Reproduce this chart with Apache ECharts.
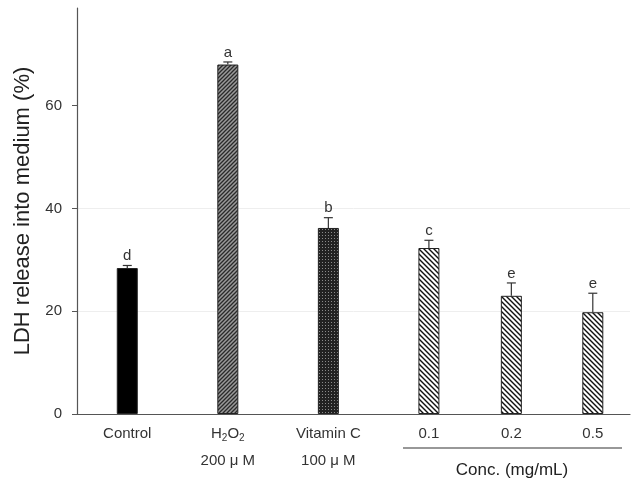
<!DOCTYPE html>
<html>
<head>
<meta charset="utf-8">
<script src="https://cdn.jsdelivr.net/npm/echarts@6/dist/echarts.min.js"></script>
<style>
  html, body { margin: 0; padding: 0; background: #fff; }
  #main { width: 640px; height: 483px; }
</style>
</head>
<body>
<div id="main"></div>
<script>
// данные
const groups = ['Control', 'H2O2', 'Vitamin C', '0.1', '0.2', '0.5'];
const xPos = [1, 2, 3, 4, 4.82, 5.63];
const values = [28.4, 68.0, 36.2, 32.3, 23.0, 19.8];
const errors = [0.5, 0.5, 2.0, 1.5, 2.5, 3.7];
const letters = ['d', 'a', 'b', 'c', 'e', 'e'];
const fills = ['solid', 'fwd', 'dots', 'back', 'back', 'back'];
const yTicks = [0, 20, 40, 60];

const FONT = 'Liberation Sans, Arial, sans-serif';

// узоры заливки столбцов
function hatch(dir, fg, bg, s, lw) {
  const c = document.createElement('canvas');
  c.width = s; c.height = s;
  const g = c.getContext('2d');
  g.fillStyle = bg; g.fillRect(0, 0, s, s);
  g.strokeStyle = fg; g.lineWidth = lw;
  g.beginPath();
  if (dir === 'fwd') {
    g.moveTo(-1, s + 1); g.lineTo(s + 1, -1);
    g.moveTo(-1, 1); g.lineTo(1, -1);
    g.moveTo(s - 1, s + 1); g.lineTo(s + 1, s - 1);
  } else {
    g.moveTo(-1, -1); g.lineTo(s + 1, s + 1);
    g.moveTo(s - 1, -1); g.lineTo(s + 1, 1);
    g.moveTo(-1, s - 1); g.lineTo(1, s + 1);
  }
  g.stroke();
  return c;
}
function dots() {
  const c = document.createElement('canvas');
  c.width = 3; c.height = 3;
  const g = c.getContext('2d');
  g.fillStyle = '#222'; g.fillRect(0, 0, 3, 3);
  g.fillStyle = '#8a8a8a'; g.fillRect(1, 1, 1, 1);
  return c;
}
const patterns = {
  solid: '#000',
  fwd: { image: hatch('fwd', '#2a2a2a', '#9a9a9a', 4, 1.3), repeat: 'repeat' },
  dots: { image: dots(), repeat: 'repeat' },
  back: { image: hatch('back', '#111', '#fff', 5, 1.4), repeat: 'repeat' }
};

const barData = values.map((v, i) => ({
  value: [xPos[i], v],
  itemStyle: { color: patterns[fills[i]] }
}));
const errData = values.map((v, i) => [xPos[i], v, v + errors[i], i]);

const labelText = {
  'Control': '{n|Control}',
  'H2O2': '{n|H}{sub|2}{n|O}{sub|2}\n{n|200 μ M}',
  'Vitamin C': '{n|Vitamin C}\n{n|100 μ M}',
  '0.1': '{n|0.1}', '0.2': '{n|0.2}', '0.5': '{n|0.5}'
};

let chart = echarts.init(document.getElementById('main'));
chart.setOption({
  animation: false,
  textStyle: { fontFamily: FONT },
  grid: { left: 77, right: 10, top: 8, bottom: 69 },
  xAxis: {
    type: 'value',
    min: 0.5,
    max: 6,
    splitLine: { show: false },
    axisTick: { show: false },
    axisLine: { lineStyle: { color: '#555', width: 1.2 } },
    axisLabel: {
      customValues: xPos,
      margin: 6,
      color: '#333',
      formatter: function (val) {
        const i = xPos.indexOf(val);
        return i < 0 ? '' : labelText[groups[i]];
      },
      rich: {
        n: { fontSize: 15, lineHeight: 27, color: '#333', fontFamily: FONT },
        sub: { fontSize: 10, lineHeight: 10, padding: [9, 0, 0, 0], verticalAlign: 'middle', color: '#333', fontFamily: FONT }
      }
    }
  },
  yAxis: {
    type: 'value',
    min: 0,
    max: 79,
    interval: 20,
    name: 'LDH release into medium (%)',
    nameLocation: 'middle',
    nameGap: 40,
    nameTextStyle: { fontSize: 22, color: '#222' },
    axisLine: { show: true, lineStyle: { color: '#555', width: 1.2 } },
    axisTick: { show: true, length: 5, customValues: yTicks, lineStyle: { color: '#555' } },
    axisLabel: { customValues: yTicks, margin: 15, fontSize: 15, color: '#333' },
    splitLine: { show: true, showMaxLine: false, showMinLine: false, lineStyle: { color: '#eeeeee' } }
  },
  graphic: [
    { type: 'line', shape: { x1: 403, y1: 448, x2: 622, y2: 448 }, style: { stroke: '#333', lineWidth: 1.2 } },
    { type: 'text', x: 512, y: 470, style: { text: 'Conc. (mg/mL)', fontSize: 17, fill: '#222', align: 'center', verticalAlign: 'middle', fontFamily: FONT } }
  ],
  series: [
    {
      type: 'bar',
      barWidth: 21,
      data: barData,
      itemStyle: { borderColor: '#222', borderWidth: 1 }
    },
    {
      type: 'custom',
      data: errData,
      renderItem: function (params, api) {
        const x = api.value(0);
        const lo = api.coord([x, api.value(1)]);
        const hi = api.coord([x, api.value(2)]);
        const i = api.value(3);
        return {
          type: 'group',
          children: [
            { type: 'line', shape: { x1: lo[0], y1: lo[1], x2: hi[0], y2: hi[1] }, style: { stroke: '#333', lineWidth: 1.2 } },
            { type: 'line', shape: { x1: hi[0] - 4.5, y1: hi[1], x2: hi[0] + 4.5, y2: hi[1] }, style: { stroke: '#333', lineWidth: 1.2 } },
            { type: 'text', x: hi[0], y: hi[1] - 2, style: { text: letters[i], fontSize: 15, fill: '#333', align: 'center', verticalAlign: 'bottom', fontFamily: FONT } }
          ]
        };
      }
    }
  ]
});
</script>
</body>
</html>
